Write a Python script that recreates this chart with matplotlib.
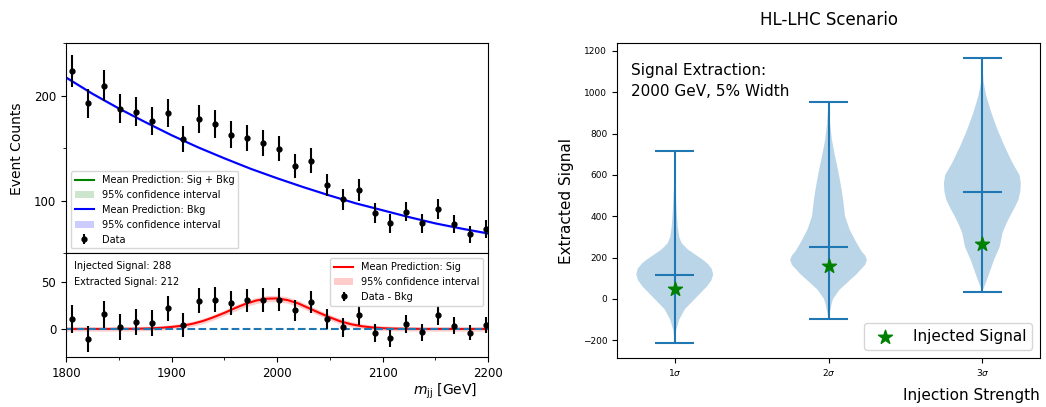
import numpy as np
import matplotlib
matplotlib.use("Agg")
import matplotlib.pyplot as plt
from matplotlib.ticker import MultipleLocator, FixedLocator

# ---------------- data ----------------
bin_centers = [1805.4, 1820.5, 1835.7, 1850.8, 1866.0, 1881.1, 1896.3, 1911.2, 1926.3,
               1941.5, 1956.6, 1971.5, 1986.7, 2001.8, 2016.7, 2031.8, 2047.0, 2062.1,
               2077.3, 2092.4, 2107.3, 2122.5, 2137.6, 2152.8, 2167.6, 2182.8, 2197.9]
counts = [223.8, 192.7, 209.8, 187.9, 184.8, 176.2, 183.8, 158.7, 178.1,
          173.0, 162.9, 160.0, 155.2, 149.8, 133.0, 138.1, 114.9, 101.6,
          110.1, 88.6, 78.4, 89.8, 78.4, 92.4, 77.8, 68.2, 73.0]
resid = [10.5, -10.5, 15.4, 2.1, 7.3, 6.3, 21.7, 4.5, 29.7,
         31.1, 27.6, 30.1, 30.4, 31.1, 19.6, 28.7, 10.8, 1.7,
         14.3, -4.2, -10.1, 5.2, -3.5, 14.3, 3.5, -3.8, 4.2]

bkg_x = [1800, 1825, 1850, 1875, 1900, 1925, 1950, 1975, 2000,
         2025, 2050, 2075, 2100, 2125, 2150, 2175, 2200]
bkg_y = [217.5, 202.0, 188.0, 175.0, 162.5, 151.0, 140.5, 130.5, 121.5,
         113.0, 105.0, 97.5, 91.0, 84.5, 78.5, 73.5, 68.9]
bkg_err = [1.5, 1.4, 1.3, 1.2, 1.2, 1.1, 1.1, 1.0, 1.0,
           1.0, 1.0, 1.0, 1.0, 1.0, 1.0, 1.1, 1.2]

sig_x = [1800, 1810, 1820, 1830, 1840, 1850, 1860, 1870, 1880, 1890, 1900,
         1910, 1920, 1930, 1940, 1950, 1960, 1970, 1980, 1990, 2000,
         2010, 2020, 2030, 2040, 2050, 2060, 2070, 2080, 2090, 2100,
         2110, 2120, 2130, 2140, 2150, 2160, 2170, 2180, 2190, 2200]
sig_y = [0.0, 0.0, 0.0, 0.0, 0.0, 0.1, 0.1, 0.3, 0.6, 1.2, 2.1,
         3.4, 5.5, 8.5, 12.5, 17.0, 22.0, 26.5, 30.0, 32.0, 32.3,
         30.5, 27.0, 22.0, 17.0, 12.2, 8.0, 5.0, 2.9, 1.6, 0.8,
         0.4, 0.2, 0.1, 0.0, 0.0, 0.0, 0.0, 0.0, 0.0, 0.0]
sig_err = [2.3, 2.3, 2.3, 2.3, 2.3, 2.3, 2.3, 2.3, 2.3, 2.4, 2.4,
           2.5, 2.6, 2.7, 2.8, 2.9, 3.0, 3.1, 3.2, 3.3, 3.3,
           3.3, 3.2, 3.1, 3.0, 2.9, 2.8, 2.7, 2.6, 2.5, 2.4,
           2.4, 2.3, 2.3, 2.3, 2.3, 2.3, 2.3, 2.3, 2.3, 2.3]

injected_label = "Injected Signal: 288"
extracted_label = "Extracted Signal: 212"

# violin panel
strength_labels = [r"$1\sigma$", r"$2\sigma$", r"$3\sigma$"]
viol_coords = [
    [-215, -190, -150, -100, -50, 0, 30, 60, 90, 118, 145, 170, 190, 210, 240, 270,
     300, 350, 420, 500, 560, 620, 715],
    [-95, -60, -25, 0, 45, 94, 120, 142, 165, 190, 210, 230, 271, 336, 400, 440, 481,
     530, 611, 691, 772, 850, 952],
    [37, 78, 126, 190, 255, 319, 360, 400, 440, 481, 520, 562, 600, 659, 740, 821, 901,
     982, 1047, 1100, 1168],
]
viol_dens = [
    [0, 0.5, 1.5, 4.5, 10, 20, 26, 32, 36.5, 38.3, 37, 33, 28, 22, 13, 7,
     4.5, 3, 2, 1.2, 0.5, 0.2, 0],
    [0, 1.5, 3, 4.5, 11, 22, 28, 32, 36.5, 38.3, 36.5, 33, 28, 21, 16.5, 15.5, 14.5,
     13, 10, 6.5, 3.3, 1.5, 0],
    [0, 3.5, 7, 11.7, 17.5, 20, 23.5, 27.5, 32, 36, 37.8, 38.3, 37, 30, 22, 15, 9,
     4, 1.3, 0.5, 0],
]
viol_min = [-215, -95, 35]
viol_max = [715, 952, 1168]
viol_center = [115, 252, 520]
injected_signal = [50, 160, 268]

# ---------------- figure ----------------
fig = plt.figure(figsize=(10.46, 4.07), dpi=100)

ax1 = fig.add_axes([0.0631, 0.3776, 0.4037, 0.5160])
ax2 = fig.add_axes([0.0631, 0.1221, 0.4037, 0.2555], sharex=ax1)
ax3 = fig.add_axes([0.5899, 0.1211, 0.4044, 0.7725])

# top panel
h_sb, = ax1.plot([], [], color="green", lw=1.5)
h_sbf = ax1.fill_between([], [], [], color="green", alpha=0.2, lw=0)
bkg_lo = np.array(bkg_y) - np.array(bkg_err)
bkg_hi = np.array(bkg_y) + np.array(bkg_err)
h_bf = ax1.fill_between(bkg_x, bkg_lo, bkg_hi, color="blue", alpha=0.2, lw=0)
h_b, = ax1.plot(bkg_x, bkg_y, color="blue", lw=1.5)
h_d = ax1.errorbar(bin_centers, counts, yerr=np.sqrt(counts), fmt="o", color="black",
                   ms=3.5, elinewidth=1.5, capsize=0)
ax1.set_xlim(1800, 2200)
ax1.set_ylim(50, 250)
ax1.yaxis.set_major_locator(FixedLocator([100, 200]))
ax1.yaxis.set_minor_locator(FixedLocator([50, 150, 250]))
ax1.tick_params(axis="x", which="both", bottom=False, labelbottom=False)
ax1.tick_params(axis="y", labelsize=8.5)
ax1.set_ylabel("Event Counts", fontsize=10, labelpad=7)
ax1.legend(handles=[h_sb, h_sbf, h_b, h_bf, h_d],
           labels=["Mean Prediction: Sig + Bkg", "95% confidence interval",
                   "Mean Prediction: Bkg", "95% confidence interval", "Data"],
           loc="lower left", fontsize=7)

# bottom panel
sig_lo = np.array(sig_y) - np.array(sig_err)
sig_hi = np.array(sig_y) + np.array(sig_err)
h_sf = ax2.fill_between(sig_x, sig_lo, sig_hi, color="red", alpha=0.2, lw=0)
h_s, = ax2.plot(sig_x, sig_y, color="red", lw=1.5)
ax2.axhline(0, color="C0", ls="--", lw=1.5)
h_r = ax2.errorbar(bin_centers, resid, yerr=np.sqrt(counts), fmt="o", color="black",
                   ms=3.5, elinewidth=1.5, capsize=0)
ax2.set_ylim(-30, 80)
ax2.yaxis.set_major_locator(FixedLocator([0, 50]))
ax2.xaxis.set_major_locator(MultipleLocator(100))
ax2.xaxis.set_minor_locator(MultipleLocator(50))
ax2.tick_params(labelsize=8.5)
ax2.set_xlabel(r"$m_{\mathrm{jj}}$ [GeV]", fontsize=10, loc="right", labelpad=1)
ax2.xaxis.label.set_x(0.973)
ax2.legend(handles=[h_s, h_sf, h_r],
           labels=["Mean Prediction: Sig", "95% confidence interval", "Data - Bkg"],
           loc="upper right", fontsize=7)
ax2.text(0.019, 0.849, injected_label, transform=ax2.transAxes, fontsize=7, va="baseline")
ax2.text(0.019, 0.695, extracted_label, transform=ax2.transAxes, fontsize=7, va="baseline")

# violin panel
positions = [1, 2, 3]
vpstats = []
for c, d, mn, mx, ce in zip(viol_coords, viol_dens, viol_min, viol_max, viol_center):
    vpstats.append(dict(coords=np.array(c, float), vals=np.array(d, float),
                        mean=ce, median=ce, min=mn, max=mx))
ax3.violin(vpstats, positions=positions, widths=0.5, showmeans=False,
           showextrema=True, showmedians=True)
ax3.scatter(positions, injected_signal, marker="*", s=110, color="green",
            zorder=3, label="Injected Signal")
ax3.set_xticks(positions)
ax3.set_xticklabels(strength_labels)
ax3.set_yticks([-200, 0, 200, 400, 600, 800, 1000, 1200])
ax3.tick_params(labelsize=6.5)
ax3.set_ylabel("Extracted Signal", fontsize=11, labelpad=6)
ax3.set_xlabel("Injection Strength", fontsize=11, loc="right", labelpad=7)
ax3.set_title("HL-LHC Scenario", fontsize=12, pad=13.5)
ax3.text(0.0324, 0.936, "Signal Extraction:\n2000 GeV, 5% Width",
         transform=ax3.transAxes, fontsize=11, va="top", ha="left", linespacing=1.45)
ax3.legend(loc="lower right", fontsize=11)

fig.savefig("out.png", dpi=100)
